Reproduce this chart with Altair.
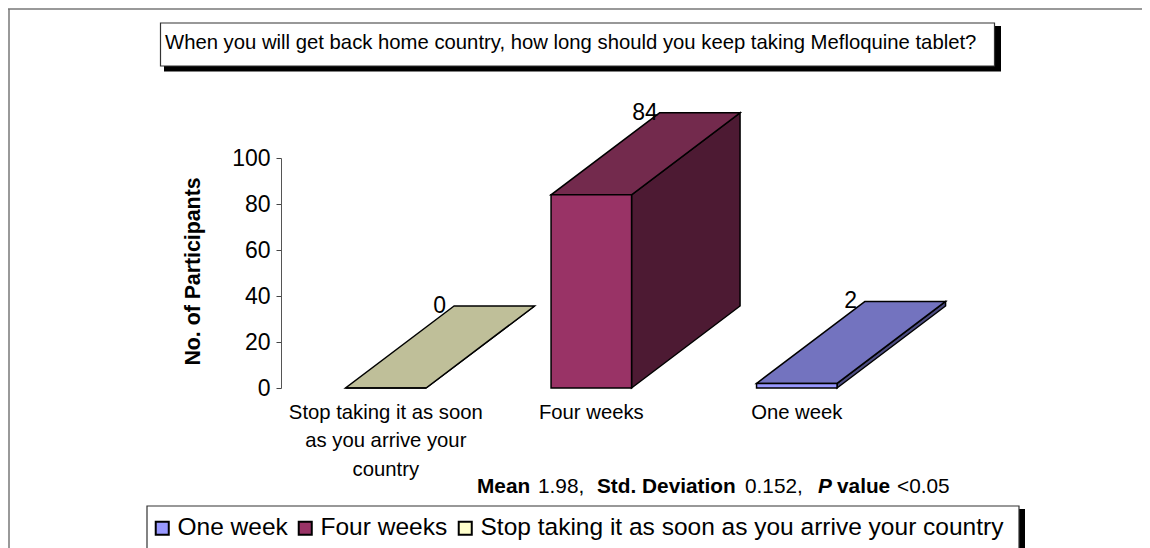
import altair as alt
import pandas as pd

# ---- data ----
categories = ["Stop taking it as soon as you arrive your country", "Four weeks", "One week"]
category_lines = [["Stop taking it as soon", "as you arrive your", "country"], ["Four weeks"], ["One week"]]
values = [0, 84, 2]
top_colors = ["#BFBF99", "#732A4D", "#7373BF"]
side_colors = ["#80805F", "#4D1A33", "#4D4D80"]
legend_order = ["One week", "Four weeks", "Stop taking it as soon as you arrive your country"]
legend_colors = ["#9999FF", "#993366", "#FFFFCC"]
y_ticks = [0, 20, 40, 60, 80, 100]
title_text = "When you will get back home country, how long should you keep taking Mefloquine tablet?"
y_title = "No. of Participants"
stats = [("Mean", 477, "bold", "normal"), ("1.98,", 538, "normal", "normal"),
         ("Std. Deviation", 597, "bold", "normal"), ("0.152,", 745, "normal", "normal"),
         ("P", 818, "bold", "italic"), ("value", 837, "bold", "normal"), ("<0.05", 897, "normal", "normal")]

FONT = "Liberation Sans"
W, H = 861, 230
LEFT, TOP = 273, 150
OX, OY = LEFT + 8, TOP + 8          # page position of the plot origin
SLOT = 205.5                        # px per category
PX_Y = H / 100
CENTER = 0.51
HALF = 40.25 / SLOT
DX = 108.5 / SLOT
DY = 82 / PX_Y

x_scale = alt.Scale(domain=[0, W / SLOT], range=[0, W], nice=False, zero=False)
y_scale = alt.Scale(domain=[0, 100], nice=False)

front, top_face, side, labels, cat_text = [], [], [], [], []
for i, (c, v) in enumerate(zip(categories, values)):
    x0, x1 = i + CENTER - HALF, i + CENTER + HALF
    front.append(dict(cat=c, x=x0, x2=x1, y=0, y2=v))
    for t in (0, 1):
        top_face.append(dict(cat=c, fill=top_colors[i], y=v + t * DY, x=x0 + t * DX, x2=x1 + t * DX))
        side.append(dict(cat=c, fill=side_colors[i], x=x1 + t * DX, y=t * DY, y2=v + t * DY))
    labels.append(dict(x=x0 + DX - 14.5 / SLOT, y=v + DY, text=str(v)))
    for n, line in enumerate(category_lines[i]):
        cat_text.append(dict(x=i + CENTER, y=-(24.5 + 28.5 * n) / PX_Y, text=line))

X = alt.X("x:Q", scale=x_scale, axis=None)
Y = alt.Y("y:Q", scale=y_scale,
          axis=alt.Axis(values=y_ticks, grid=False, title=y_title, titleFont=FONT, titleFontSize=21.3,
                        titleFontWeight="bold", titleColor="#000", titleX=-88, titleY=113, titleAngle=270,
                        titleAlign="center", titleBaseline="middle", labelFont=FONT, labelFontSize=23,
                        labelColor="#000", labelPadding=6, tickSize=5, tickColor="#444", domainColor="#555",
                        tickWidth=1, domainWidth=1))

side_layer = alt.Chart(pd.DataFrame(side)).mark_area(stroke="black", strokeWidth=1.5, opacity=1).encode(
    x=X, y=Y, y2="y2:Q", detail="cat:N", fill=alt.Fill("fill:N", scale=None))
top_layer = alt.Chart(pd.DataFrame(top_face)).mark_area(orient="horizontal", stroke="black", strokeWidth=1.5, opacity=1).encode(
    y=Y, x=X, x2="x2:Q", detail="cat:N", fill=alt.Fill("fill:N", scale=None))
front_layer = alt.Chart(pd.DataFrame(front)).mark_rect(stroke="black", strokeWidth=1.5, opacity=1).encode(
    x=X, x2="x2:Q", y=Y, y2="y2:Q",
    color=alt.Color("cat:N", scale=alt.Scale(domain=legend_order, range=legend_colors),
                    legend=alt.Legend(orient="none", legendX=150 - OX, legendY=516 - OY, columns=3,
                                      gridAlign="none", title=None, symbolType="square", symbolSize=170,
                                      symbolStrokeColor="black", symbolStrokeWidth=2, symbolOpacity=1,
                                      labelFont=FONT, labelFontSize=24.5, labelColor="#000", labelOffset=3,
                                      columnPadding=5, labelLimit=700, padding=0)))
value_layer = alt.Chart(pd.DataFrame(labels)).mark_text(font=FONT, fontSize=23, color="black", align="center", baseline="middle").encode(
    x=X, y=Y, text="text:N")
cat_layer = alt.Chart(pd.DataFrame(cat_text)).mark_text(font=FONT, fontSize=20.3, color="black", align="center", baseline="middle").encode(
    x=X, y=Y, text="text:N")


def box(x0, y0, x1, y1, **kw):
    return alt.Chart(pd.DataFrame({"a": [0]})).mark_rect(**kw).encode(
        x=alt.value(x0 - OX), x2=alt.value(x1 - OX), y=alt.value(y0 - OY), y2=alt.value(y1 - OY))


def text(s, px, py, size=20.8, **kw):
    return alt.Chart(pd.DataFrame({"t": [s]})).mark_text(font=FONT, fontSize=size, color="black", align="left",
                                                         baseline="middle", **kw).encode(
        x=alt.value(px - OX), y=alt.value(py - OY), text="t:N")


frame_top = alt.Chart(pd.DataFrame({"a": [0]})).mark_rule(color="#777", strokeWidth=1.5).encode(
    x=alt.value(8 - OX), x2=alt.value(1150 - OX), y=alt.value(9 - OY))
frame_left = alt.Chart(pd.DataFrame({"a": [0]})).mark_rule(color="#777", strokeWidth=1.5).encode(
    x=alt.value(9 - OX), y=alt.value(9 - OY), y2=alt.value(548 - OY))

layers = [
    frame_top, frame_left,
    box(164, 26, 1001, 71.5, color="black"),
    box(160.5, 23, 994.5, 66, color="white", stroke="#333", strokeWidth=1.2),
    text(title_text, 165, 43, size=20.3),
    box(1019, 509, 1025, 550, color="black"),
    box(147, 506, 1019, 552, color="white", stroke="#333", strokeWidth=1.2),
    side_layer, top_layer, front_layer, value_layer, cat_layer,
]
for s, px, w, st in stats:
    layers.append(text(s, px, 487, fontWeight=w, fontStyle=st))

chart = alt.layer(*layers).properties(
    width=W, height=H,
    padding={"left": LEFT, "top": TOP, "right": 0, "bottom": 160},
    autosize=alt.AutoSizeParams(type="none"),
    background="white",
).configure_view(stroke=None)

chart.save("out.html", embed_options={"renderer": "svg", "actions": False})
